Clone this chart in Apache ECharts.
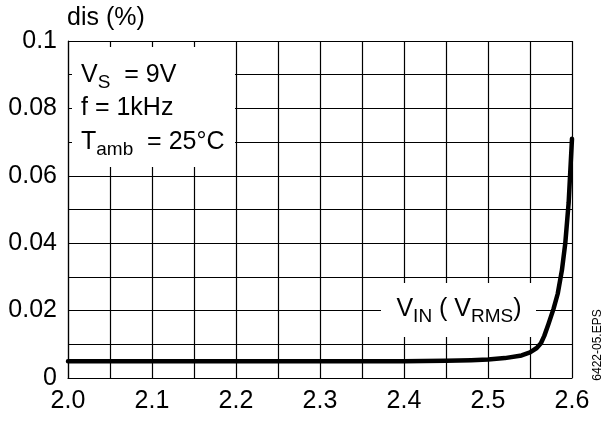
<!DOCTYPE html>
<html>
<head>
<meta charset="utf-8">
<script src="https://cdn.jsdelivr.net/npm/echarts@6/dist/echarts.min.js"></script>
<style>html,body{margin:0;padding:0;background:#fff;}#c{width:613px;height:423px;}</style>
</head>
<body>
<div id="c"></div>
<script>
const vin = [2.0, 2.1, 2.2, 2.3, 2.4, 2.45, 2.48, 2.5, 2.52, 2.54, 2.55, 2.558, 2.563, 2.567, 2.572, 2.578, 2.583, 2.588, 2.592, 2.596, 2.6];
const dis = [0.005, 0.005, 0.005, 0.005, 0.005, 0.0051, 0.0053, 0.0055, 0.0059, 0.0067, 0.0076, 0.0089, 0.0103, 0.0125, 0.016, 0.0205, 0.025, 0.032, 0.040, 0.052, 0.071];
const xTickLabels = ['2.0', '2.1', '2.2', '2.3', '2.4', '2.5', '2.6'];
const yTickLabels = ['0', '0.02', '0.04', '0.06', '0.08', '0.1'];

const FONT = 'Liberation Sans, Arial, sans-serif';
const FS = 25;
const SUB = 19;
const chart = echarts.init(document.getElementById('c'), null, {renderer: 'canvas'});
const lineData = vin.map((v, i) => [v, dis[i]]);
const grid = {left: 68, right: 41, top: 41, bottom: 45};
const gridLine = {show: true, lineStyle: {color: '#000', width: 1.2, type: 'solid'}};

chart.setOption({
  animation: false,
  backgroundColor: '#fff',
  grid: grid,
  xAxis: {
    type: 'value', min: 2.0, max: 2.6, interval: 0.05,
    axisLine: {show: true, lineStyle: {color: '#000', width: 1.2}},
    axisTick: {show: false},
    splitLine: gridLine,
    axisLabel: {
      color: '#000', fontFamily: FONT, fontSize: FS, margin: 11,
      formatter: (v, i) => (i % 2 === 0 ? xTickLabels[i / 2] : '')
    }
  },
  yAxis: {
    type: 'value', min: 0, max: 0.1, interval: 0.01,
    name: 'dis (%)', nameLocation: 'end', nameGap: 10,
    nameTextStyle: {color: '#000', fontFamily: FONT, fontSize: FS, align: 'left', padding: [0, 0, 0, -1]},
    axisLine: {show: true, lineStyle: {color: '#000', width: 1.2}},
    axisTick: {show: false},
    splitLine: gridLine,
    axisLabel: {
      color: '#000', fontFamily: FONT, fontSize: FS, margin: 11,
      formatter: (v, i) => (i % 2 === 0 ? yTickLabels[i / 2] : '')
    }
  },
  series: [{
    type: 'line', data: lineData, showSymbol: false, smooth: false,
    lineStyle: {color: '#000', width: 4.5, join: 'round', cap: 'round'}, z: 10
  }],
  graphic: [
    {type: 'rect', z: 5, shape: {x: 72, y: 47, width: 163, height: 120}, style: {fill: '#fff'}},
    {type: 'rect', z: 5, shape: {x: 381, y: 283, width: 155, height: 54}, style: {fill: '#fff'}},
    {type: 'text', z: 6, x: 81, y: 75, style: {
      text: '{m|V}{s|S}{m|  = 9V}', verticalAlign: 'middle',
      rich: {m: {fontSize: FS, fontFamily: FONT, fill: '#000'}, s: {fontSize: SUB, fontFamily: FONT, fill: '#000', padding: [15, 0, 0, 0]}}
    }},
    {type: 'text', z: 6, x: 81, y: 108, style: {
      text: '{m|f = 1kHz}', verticalAlign: 'middle',
      rich: {m: {fontSize: FS, fontFamily: FONT, fill: '#000'}}
    }},
    {type: 'text', z: 6, x: 81, y: 142, style: {
      text: '{m|T}{s|amb}{m|  = 25°C}', verticalAlign: 'middle',
      rich: {m: {fontSize: FS, fontFamily: FONT, fill: '#000'}, s: {fontSize: SUB, fontFamily: FONT, fill: '#000', padding: [15, 0, 0, 0]}}
    }},
    {type: 'text', z: 6, x: 459, y: 309, style: {
      text: '{m|V}{s|IN}{m| ( V}{s|RMS}{m|)}', align: 'center', verticalAlign: 'middle',
      rich: {m: {fontSize: FS, fontFamily: FONT, fill: '#000'}, s: {fontSize: SUB, fontFamily: FONT, fill: '#000', padding: [15, 0, 0, 0]}}
    }},
    {type: 'text', z: 6, x: 598, y: 345, rotation: Math.PI / 2, style: {
      text: '6422-05.EPS', align: 'center', verticalAlign: 'middle',
      fontSize: 12, fontFamily: FONT, fill: '#000'
    }}
  ]
});
</script>
</body>
</html>
